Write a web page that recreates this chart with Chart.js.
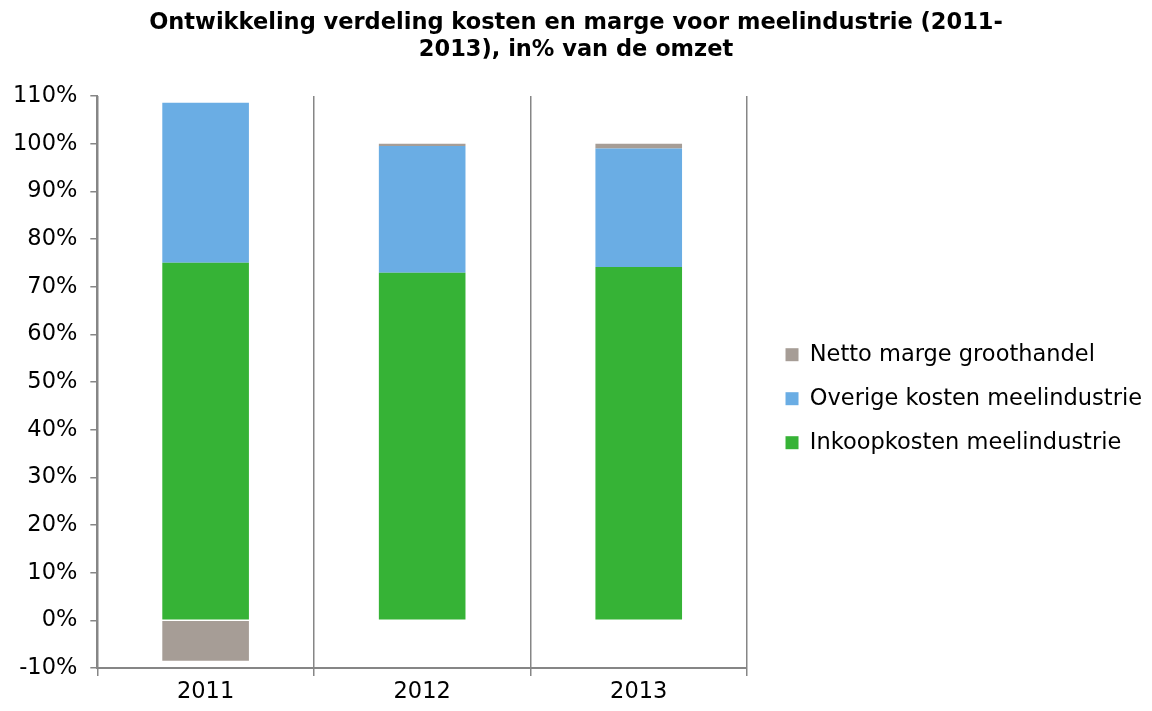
<!DOCTYPE html>
<html>
<head>
<meta charset="utf-8">
<title>Kosten en marge meelindustrie</title>
<script src="https://cdn.jsdelivr.net/npm/chart.js@4"></script>
<style>
  html, body { margin: 0; padding: 0; background: #fff; }
  #wrap { width: 1152px; height: 711px; }
</style>
</head>
<body>
<div id="wrap"><canvas id="chart" width="1152" height="711"></canvas></div>
<script>
// Jaren en aandelen in % van de omzet
const years = ['2011', '2012', '2013'];
const inkoopkosten = [75.0, 72.9, 74.1];
const overigeKosten = [33.6, 26.6, 24.9];
const nettoMarge = [-8.5, 0.5, 1.0];

const axisGrey = '#868686';
const font = { family: 'Verdana, "DejaVu Sans", sans-serif', size: 22.5 };

const ctx = document.getElementById('chart').getContext('2d');
new Chart(ctx, {
    type: 'bar',
    data: {
        labels: years,
        datasets: [
            { label: 'Inkoopkosten meelindustrie', data: inkoopkosten, backgroundColor: '#36B336' },
            { label: 'Overige kosten meelindustrie', data: overigeKosten, backgroundColor: '#6AADE4' },
            { label: 'Netto marge groothandel', data: nettoMarge, backgroundColor: '#A69D96' }
        ]
    },
    options: {
        responsive: false,
        animation: false,
        barPercentage: 0.5,
        categoryPercentage: 0.8,
        layout: { padding: { left: 0, right: 0, top: 0, bottom: 2 } },
        plugins: {
            title: {
                display: true,
                text: ['Ontwikkeling verdeling kosten en marge voor meelindustrie (2011-', '2013), in% van de omzet'],
                color: '#000',
                font: { family: font.family, size: 22.5, weight: 'bold' },
                padding: { top: 10, bottom: 32 },
                lineHeight: 1.12
            },
            legend: {
                position: 'right',
                reverse: true,
                maxWidth: 420,
                // lege titel duwt de items iets omlaag
                title: {
                    display: true,
                    text: ' ',
                    font: { size: 12, lineHeight: 1.2 },
                    padding: 37
                },
                labels: {
                    color: '#000',
                    font: font,
                    boxWidth: 13,
                    boxHeight: 13,
                    padding: 21.5
                }
            },
            tooltip: { enabled: false }
        },
        scales: {
            x: {
                stacked: true,
                border: { color: axisGrey, width: 2 },
                grid: { color: axisGrey, lineWidth: 1.5, tickLength: 8, offset: true },
                ticks: { color: '#000', font: font, padding: 3 }
            },
            y: {
                stacked: true,
                min: -10,
                max: 110,
                border: { color: axisGrey, width: 2 },
                grid: { drawOnChartArea: false, color: axisGrey, lineWidth: 1.5, tickLength: 7 },
                ticks: {
                    color: '#000',
                    font: font,
                    stepSize: 10,
                    padding: 13,
                    callback: v => v + '%'
                }
            },
            // lege as rechts: ruimte tussen plot en legenda
            gap: {
                position: 'right',
                display: true,
                grid: { display: false },
                border: { display: false },
                ticks: { display: false },
                afterFit: scale => { scale.width = 17; }
            }
        }
    }
});
</script>
</body>
</html>
